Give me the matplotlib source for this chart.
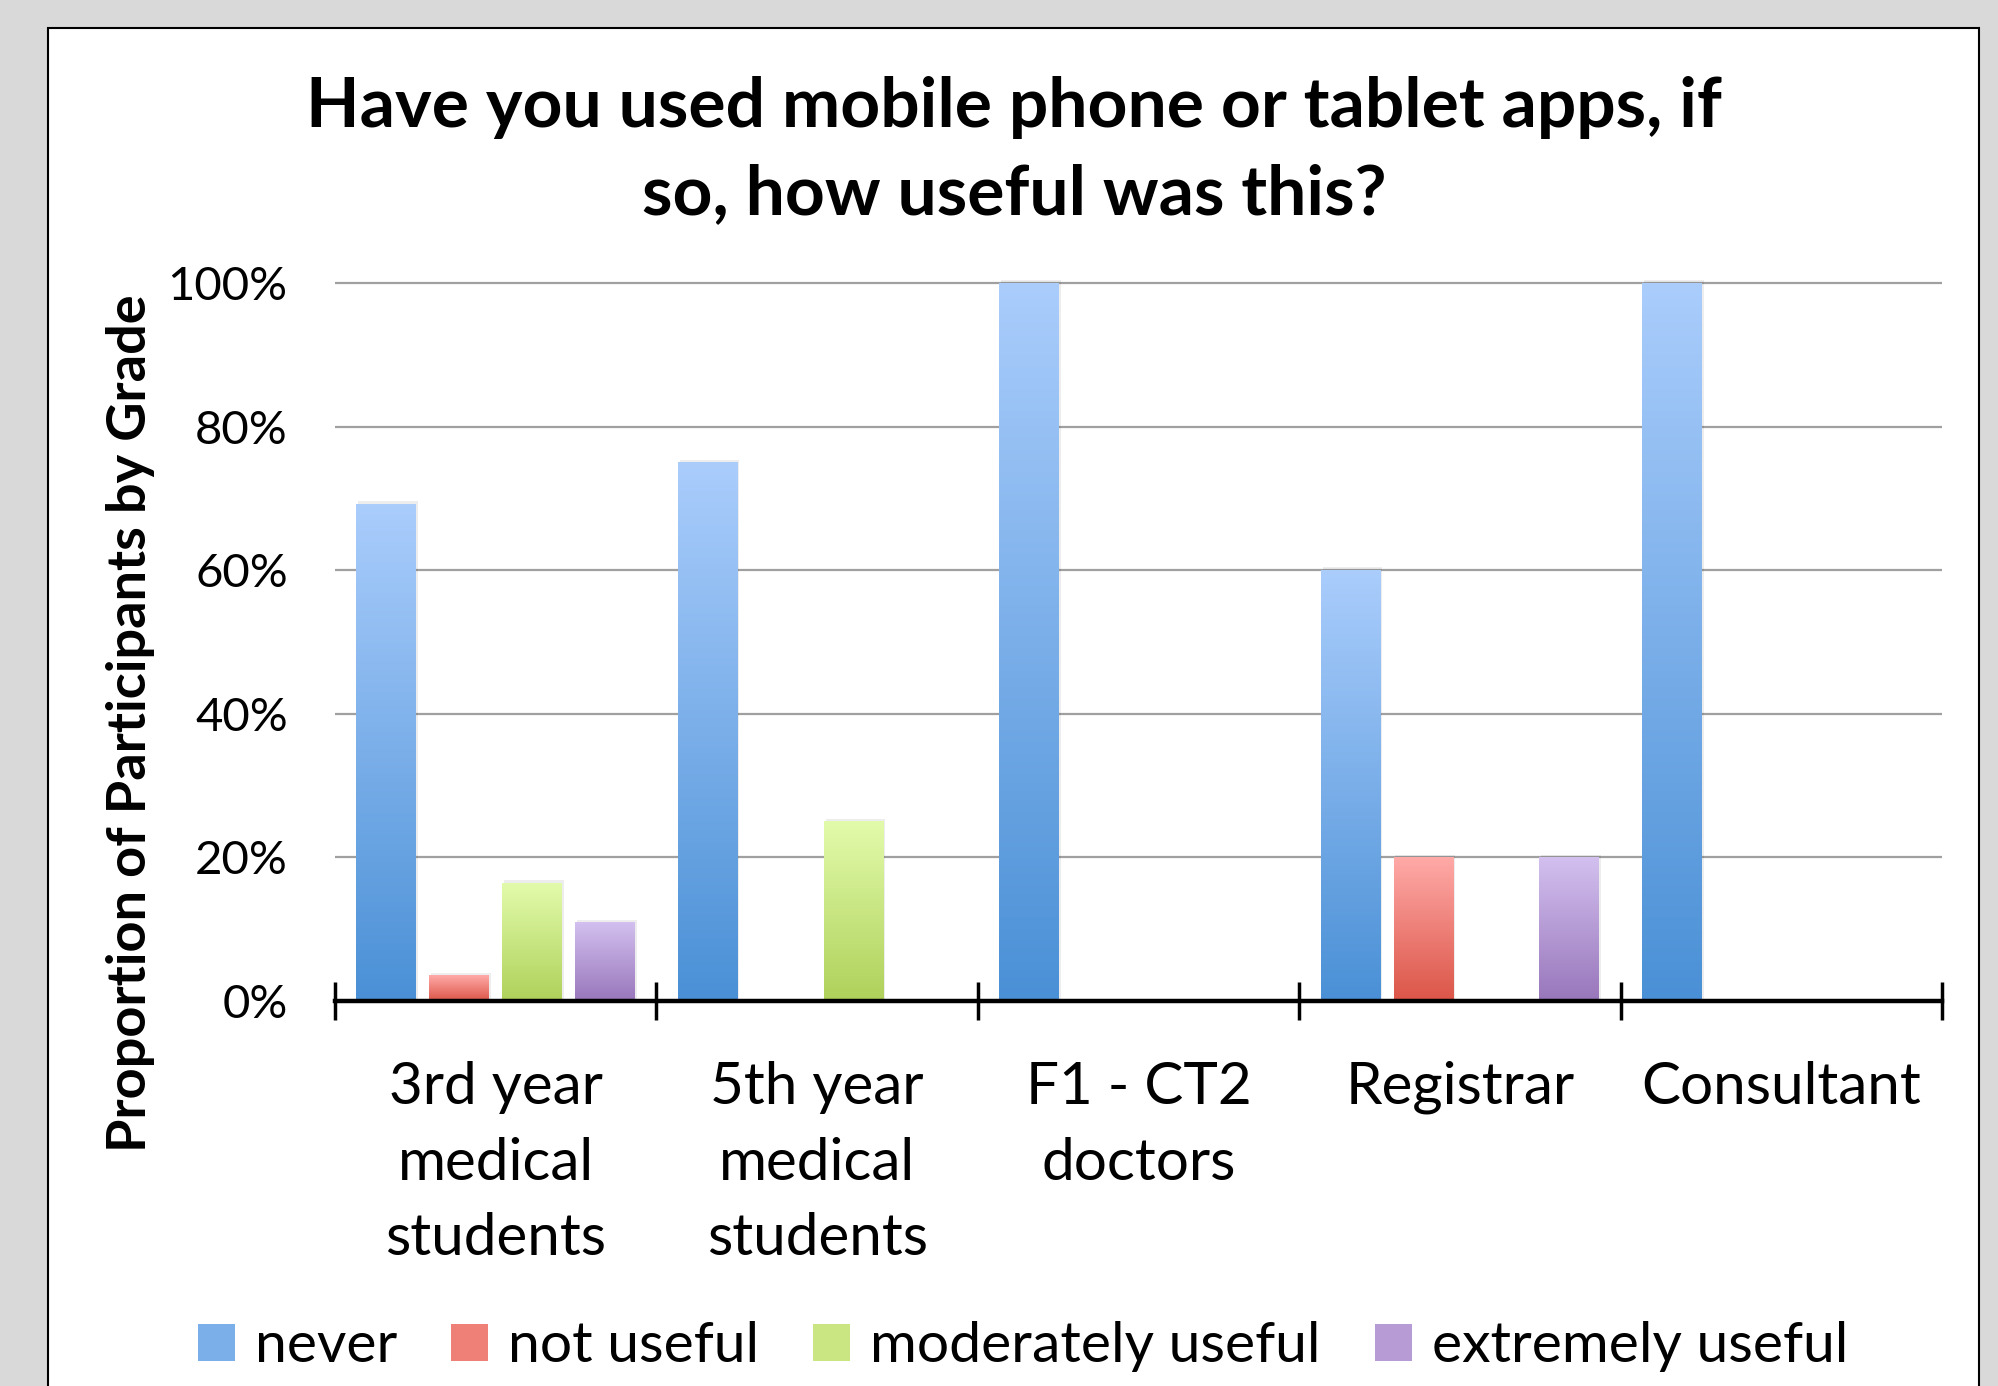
import numpy as np
import matplotlib
matplotlib.use("Agg")
import matplotlib.pyplot as plt
from matplotlib.patches import Rectangle, Patch
from matplotlib.colors import LinearSegmentedColormap

# data
categories = ["3rd year\nmedical\nstudents", "5th year\nmedical\nstudents",
              "F1 - CT2\ndoctors", "Registrar", "Consultant"]
series = ["never", "not useful", "moderately useful", "extremely useful"]
never = [69.2, 75, 100, 60, 100]
not_useful = [3.5, 0, 0, 20, 0]
moderately_useful = [16.4, 25, 0, 0, 0]
extremely_useful = [10.9, 0, 0, 20, 0]
values = [never, not_useful, moderately_useful, extremely_useful]

# (top colour, bottom colour) for the gradient fill of each series
grads = [("#aacdfc", "#4a90d6"),
         ("#ffaaa8", "#dc5548"),
         ("#e2fbab", "#afd15a"),
         ("#d3c0ef", "#9876bb")]

plt.rcParams['font.family'] = ['Lato', 'DejaVu Sans']

W, H = 1999, 1386
fig = plt.figure(figsize=(W / 100, H / 100), dpi=100)
fig.patch.set_facecolor("#d9d9d9")

# white chart panel with black border
panel = Rectangle((48 / W, -0.05), (1979 - 48) / W, 1.05 - 28 / H,
                  transform=fig.transFigure, facecolor="white",
                  edgecolor="black", linewidth=1.5, zorder=-10)
fig.patches.append(panel)

ymax = 101
ax_left, ax_right = 335 / W, 1942 / W
ax_bottom = (H - 1001) / H
ax_h = (1001 - 283) / H * ymax / 100
ax = fig.add_axes([ax_left, ax_bottom, ax_right - ax_left, ax_h])
ax.set_facecolor("none")

x = np.arange(len(categories))
step = 0.227
width = 0.186
for i, (vals, (top, bot)) in enumerate(zip(values, grads)):
    cmap = LinearSegmentedColormap.from_list(series[i], [bot, top])
    rects = ax.bar(x + (i - 1.5) * step, vals, width, color="none", zorder=3)
    for r in rects:
        h = r.get_height()
        if h <= 0:
            continue
        x0 = r.get_x()
        # faint shadow
        ax.add_patch(Rectangle((x0 + 0.006, 0), r.get_width(), h + 0.4,
                               facecolor="black", alpha=0.07, linewidth=0,
                               zorder=2))
        grad = np.linspace(0, 1, 256).reshape(-1, 1)
        ax.imshow(grad, cmap=cmap, origin="lower", aspect="auto",
                  extent=[x0, x0 + r.get_width(), 0, h], zorder=3)

ax.set_xlim(-0.5, len(categories) - 0.5)
ax.set_ylim(0, ymax)
ax.set_aspect("auto")

# gridlines
ax.set_yticks([0, 20, 40, 60, 80, 100])
ax.set_yticklabels(["0%", "20%", "40%", "60%", "80%", "100%"])
ax.yaxis.grid(True, color="#a0a0a0", linewidth=1.6)
ax.set_axisbelow(True)
ax.tick_params(axis="y", length=0, pad=34, labelsize=34)

# x axis: boundary ticks, labels at category centres
ax.set_xticks(np.arange(len(categories) + 1) - 0.5)
ax.set_xticklabels([])
ax.set_xticks(x, minor=True)
ax.set_xticklabels(categories, minor=True, fontsize=42, linespacing=1.53,
                   va="top")
ax.tick_params(axis="x", which="major", direction="inout", length=28,
               width=2.5, color="black")
ax.tick_params(axis="x", which="minor", length=0, pad=43)

for s in ["top", "right", "left"]:
    ax.spines[s].set_visible(False)
ax.spines["bottom"].set_linewidth(3.2)
ax.spines["bottom"].set_zorder(5)

fig.text(131 / W, (H - 723) / H, "Proportion of Participants by Grade",
         rotation=90, ha="center", va="center", fontsize=39,
         fontweight="bold")

fig.text(1014 / W, (H - 151) / H,
         "Have you used mobile phone or tablet apps, if\nso, how useful was this?",
         ha="center", va="center", fontsize=50, fontweight="bold",
         linespacing=1.47)

handles = [Patch(facecolor=LinearSegmentedColormap.from_list("c", [b, t])(0.5),
                 edgecolor="none", label=s) for s, (t, b) in zip(series, grads)]
fig.legend(handles=handles, loc="center", bbox_to_anchor=(1023 / W, 39 / H),
           ncol=4, frameon=False, fontsize=41, handlelength=0.65,
           handleheight=0.62, handletextpad=0.35, columnspacing=0.95)

fig.savefig("out.png", dpi=100, facecolor=fig.get_facecolor())
